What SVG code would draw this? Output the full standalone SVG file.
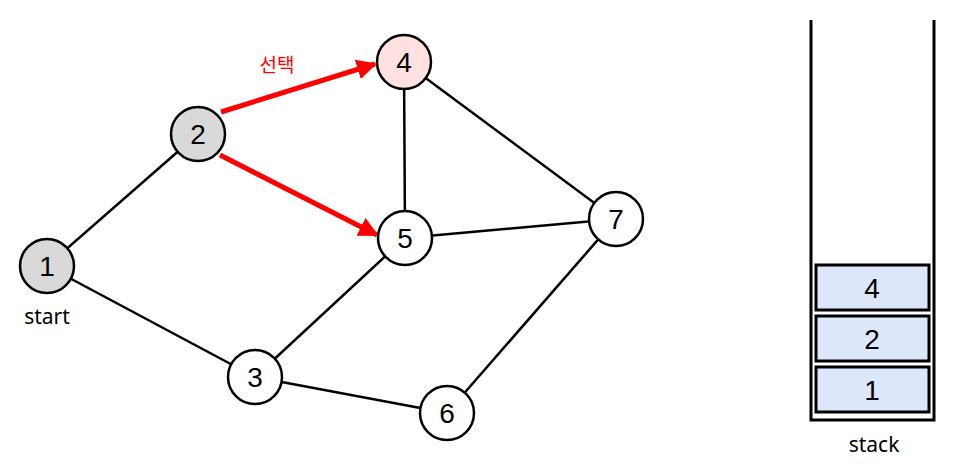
<svg xmlns="http://www.w3.org/2000/svg" width="958" height="465" viewBox="0 0 958 465">
<style>
.n{stroke:#000;stroke-width:2.5;fill:#fff}
.g{fill:#d9d9d9}
.p{fill:#ffe1e1}
.t{font-family:"Liberation Sans","DejaVu Sans",sans-serif;font-size:28px;text-anchor:middle;fill:#000}
.e{stroke:#000;stroke-width:2.5;fill:none}
.r{stroke:#ff0000;stroke-width:5;fill:none;marker-end:url(#ah)}
.s{fill:#dde7fb;stroke:#000;stroke-width:3}
.l{font-family:"Noto Sans","DejaVu Sans",sans-serif;font-size:21px;text-anchor:middle;fill:#000}
</style>
<defs>
<marker id="ah" viewBox="0 0 10 10" refX="9" refY="5" markerWidth="4" markerHeight="4" orient="auto" markerUnits="strokeWidth">
<path d="M0,0 L10,5 L0,10 z" fill="#ff0000"/>
</marker>
</defs>
<g id="connectors">
<line class="e" x1="47" y1="266" x2="198" y2="134"/>
<line class="e" x1="47" y1="266" x2="255" y2="377"/>
<line class="e" x1="255" y1="377" x2="405" y2="238"/>
<line class="e" x1="255" y1="377" x2="447" y2="413"/>
<line class="e" x1="447" y1="413" x2="616" y2="219"/>
<line class="e" x1="405" y1="238" x2="616" y2="219"/>
<line class="e" x1="404" y1="62" x2="405" y2="238"/>
<line class="e" x1="404" y1="62" x2="616" y2="219"/>
<line class="r" x1="221" y1="112" x2="375" y2="64"/>
<line class="r" x1="220" y1="155" x2="377" y2="235"/>
<text x="277" y="72" font-family="'Noto Sans CJK KR',sans-serif" font-size="19" fill="#ff0000" text-anchor="middle">선택</text>
</g>
<g id="n1"><circle class="n g" cx="47" cy="266" r="27"/><text class="t" x="47" y="276">1</text><text class="l" x="47" y="324" font-size="20">start</text></g>
<g id="n2"><circle class="n g" cx="198" cy="134" r="27"/><text class="t" x="198" y="144">2</text></g>
<g id="n4"><circle class="n p" cx="404" cy="62" r="27"/><text class="t" x="404" y="72">4</text></g>
<g id="n5"><circle class="n" cx="405" cy="238" r="27"/><text class="t" x="405" y="248">5</text></g>
<g id="n7"><circle class="n" cx="616" cy="219" r="27"/><text class="t" x="616" y="229">7</text></g>
<g id="n3"><circle class="n" cx="255" cy="377" r="27"/><text class="t" x="255" y="387">3</text></g>
<g id="n6"><circle class="n" cx="447" cy="413" r="27"/><text class="t" x="447" y="423">6</text></g>
<g id="stack">
<path d="M811,20 V420 H934 V20" fill="none" stroke="#000" stroke-width="3"/>
<rect class="s" x="816" y="265" width="113" height="45"/>
<text class="t" x="872" y="298">4</text>
<rect class="s" x="816" y="316" width="113" height="45"/>
<text class="t" x="872" y="349">2</text>
<rect class="s" x="816" y="367" width="113" height="45"/>
<text class="t" x="872" y="400">1</text>
<text class="l" x="874" y="452">stack</text>
</g>
</svg>
